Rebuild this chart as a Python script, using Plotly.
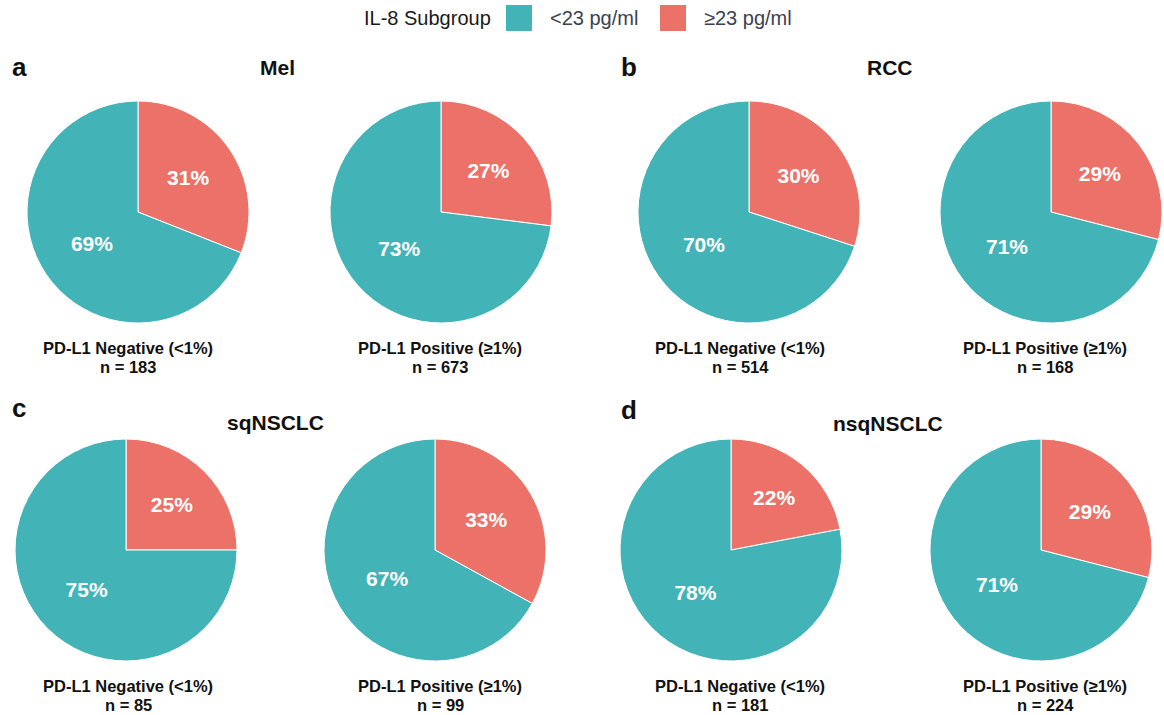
import plotly.graph_objects as go

# IL-8 subgroup share (%) by tumour type and PD-L1 status
subgroups = ["<23 pg/ml", "≥23 pg/ml"]
colors = ["#42B4B7", "#EC7168"]

panels = ["a", "b", "c", "d"]
tumours = ["Mel", "RCC", "sqNSCLC", "nsqNSCLC"]
pdl1_status = ["PD-L1 Negative (<1%)", "PD-L1 Positive (≥1%)"]

low_il8 = {
    "Mel": [69, 73],
    "RCC": [70, 71],
    "sqNSCLC": [75, 67],
    "nsqNSCLC": [78, 71],
}
high_il8 = {
    "Mel": [31, 27],
    "RCC": [30, 29],
    "sqNSCLC": [25, 33],
    "nsqNSCLC": [22, 29],
}
n_patients = {
    "Mel": [183, 673],
    "RCC": [514, 168],
    "sqNSCLC": [85, 99],
    "nsqNSCLC": [181, 224],
}

W, H = 1164, 715
R = 111
# pixel layout of each panel: pie centres, label columns, title anchors
pie_cx = {"Mel": [138, 441], "RCC": [749, 1051], "sqNSCLC": [126, 435], "nsqNSCLC": [731, 1041]}
pie_cy = {"Mel": 212, "RCC": 212, "sqNSCLC": 550, "nsqNSCLC": 550}
label_cx = {"Mel": [128, 440], "RCC": [740, 1045], "sqNSCLC": [128, 440], "nsqNSCLC": [740, 1045]}
label_y = {"Mel": (348, 367), "RCC": (348, 367), "sqNSCLC": (686, 705), "nsqNSCLC": (686, 705)}
title_pos = {"Mel": (277, 68), "RCC": (890, 68), "sqNSCLC": (275, 422), "nsqNSCLC": (888, 423)}
letter_pos = {"a": (19, 67), "b": (629, 67), "c": (19, 408), "d": (629, 410)}

FONT = "Liberation Sans, Arial, Helvetica, sans-serif"


def px(x):
    return x / W


def py(y):
    return 1 - y / H


fig = go.Figure()
for tumour in tumours:
    for j in range(2):
        # high-IL-8 slice first so it runs clockwise from 12 o'clock
        vals = [high_il8[tumour][j], low_il8[tumour][j]]
        cx, cy = pie_cx[tumour][j], pie_cy[tumour]
        fig.add_trace(go.Pie(
            labels=[subgroups[1], subgroups[0]],
            values=vals,
            text=[f"{v}%" for v in vals],
            textinfo="text",
            textposition="inside",
            insidetextorientation="horizontal",
            textfont=dict(family=FONT, size=21, color="white", weight="bold"),
            marker=dict(colors=[colors[1], colors[0]], line=dict(color="white", width=1)),
            sort=False,
            direction="clockwise",
            rotation=0,
            showlegend=False,
            hoverinfo="label+text",
            domain=dict(x=[px(cx - R), px(cx + R)], y=[py(cy + R), py(cy - R)]),
        ))

annotations = []
for tumour in tumours:
    tx, ty = title_pos[tumour]
    annotations.append(dict(x=px(tx), y=py(ty), text=f"<b>{tumour}</b>", showarrow=False,
                            xanchor="center", yanchor="middle",
                            font=dict(family=FONT, size=21, color="#111111")))
    for j in range(2):
        lx = label_cx[tumour][j]
        y1, y2 = label_y[tumour]
        annotations.append(dict(x=px(lx), y=py(y1), text=f"<b>{pdl1_status[j]}</b>", showarrow=False,
                                xanchor="center", yanchor="middle",
                                font=dict(family=FONT, size=16.5, color="#111111")))
        annotations.append(dict(x=px(lx), y=py(y2), text=f"<b>n = {n_patients[tumour][j]}</b>", showarrow=False,
                                xanchor="center", yanchor="middle",
                                font=dict(family=FONT, size=16.5, color="#111111")))
for letter in panels:
    lx, ly = letter_pos[letter]
    annotations.append(dict(x=px(lx), y=py(ly), text=f"<b>{letter}</b>", showarrow=False,
                            xanchor="center", yanchor="middle",
                            font=dict(family=FONT, size=26, color="#111111")))

# legend drawn across the top: title, then a swatch + label per subgroup
legend_y = 18
annotations.append(dict(x=px(362), y=py(legend_y), text="IL-8 Subgroup", showarrow=False,
                        xanchor="left", yanchor="middle",
                        font=dict(family=FONT, size=20, color="#1a1a1a")))
swatch_x = [506, 660]
shapes = []
for k, name in enumerate(subgroups):
    sx = swatch_x[k]
    shapes.append(dict(type="rect", xref="paper", yref="paper",
                       x0=px(sx), x1=px(sx + 26), y0=py(legend_y + 13), y1=py(legend_y - 13),
                       fillcolor=colors[k], line=dict(width=0)))
    annotations.append(dict(x=px(sx + 42), y=py(legend_y), text=name, showarrow=False,
                            xanchor="left", yanchor="middle",
                            font=dict(family=FONT, size=20, color="#3b4152")))

fig.update_layout(
    width=W,
    height=H,
    margin=dict(l=0, r=0, t=0, b=0),
    paper_bgcolor="white",
    plot_bgcolor="white",
    annotations=annotations,
    shapes=shapes,
    showlegend=False,
)

fig.write_html("out.html")
